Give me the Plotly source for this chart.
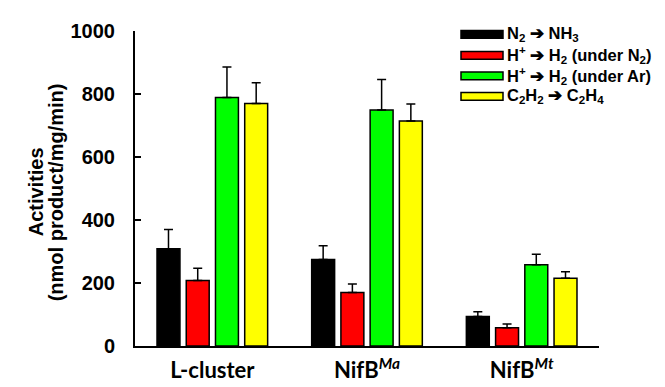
import plotly.graph_objects as go

categories = ["L-cluster", "NifB Ma", "NifB Mt"]
tick_labels = ["L-cluster", "NifB<sup><i>Ma</i></sup>", "NifB<sup><i>Mt</i></sup>"]

series_names = [
    "N<sub>2</sub> ➔ NH<sub>3</sub>",
    "H<sup>+</sup> ➔ H<sub>2</sub> (under N<sub>2</sub>)",
    "H<sup>+</sup> ➔ H<sub>2</sub> (under Ar)",
    "C<sub>2</sub>H<sub>2</sub> ➔ C<sub>2</sub>H<sub>4</sub>",
]
series_colors = ["#000000", "#ff0000", "#00ff00", "#ffff00"]

n2_nh3 = [309, 275, 94]
h2_under_n2 = [208, 170, 58]
h2_under_ar = [789, 749, 258]
c2h2_c2h4 = [770, 714, 215]

n2_nh3_err = [61, 43, 15]
h2_under_n2_err = [39, 27, 12]
h2_under_ar_err = [97, 97, 33]
c2h2_c2h4_err = [66, 54, 21]

values = [n2_nh3, h2_under_n2, h2_under_ar, c2h2_c2h4]
errors = [n2_nh3_err, h2_under_n2_err, h2_under_ar_err, c2h2_c2h4_err]

y_ticks = [0, 200, 400, 600, 800, 1000]

W, H = 665, 387
L, R, T, B = 127, 74, 20, 37
PW, PH = W - L - R, H - T - B

def px(x):
    return (x - L) / PW

def py(y):
    return (H - B - y) / PH

ARIAL = "Liberation Sans, Arial, sans-serif"

fig = go.Figure()
for name, vals, errs, col in zip(series_names, values, errors, series_colors):
    fig.add_trace(go.Bar(
        x=categories, y=vals, name=name,
        marker=dict(color=col, line=dict(color="black", width=1.5)),
        error_y=dict(type="data", array=errs, arrayminus=[0] * len(errs), symmetric=False,
                     color="black", thickness=1.5, width=4.5),
        showlegend=False,
    ))

# custom legend (long flat swatches as in the reference)
rows = [23.5, 45.5, 67, 88.5]
shapes = []
annotations = []
for name, col, yc in zip(series_names, series_colors, rows):
    shapes.append(dict(type="rect", xref="paper", yref="paper",
                       x0=px(453), x1=px(495), y0=py(yc + 4), y1=py(yc - 4),
                       fillcolor=col, line=dict(color="black", width=1.5), layer="above"))
    annotations.append(dict(xref="paper", yref="paper", x=px(498), y=py(yc),
                            xanchor="left", yanchor="middle", showarrow=False, text=name,
                            borderpad=0,
                            font=dict(family=ARIAL, size=16.5, color="black", weight="bold")))

annotations.append(dict(xref="paper", yref="paper", x=px(28), y=py(189), textangle=-90,
                        xanchor="center", yanchor="middle", showarrow=False, text="Activities",
                        font=dict(family=ARIAL, size=20, color="black", weight="bold")))
annotations.append(dict(xref="paper", yref="paper", x=px(48), y=py(189), textangle=-90,
                        xanchor="center", yanchor="middle", showarrow=False,
                        text="(nmol product/mg/min)",
                        font=dict(family=ARIAL, size=20, color="black", weight="bold")))

fig.update_layout(
    width=W, height=H,
    margin=dict(l=L, r=R, t=T, b=B, pad=0),
    plot_bgcolor="white", paper_bgcolor="white",
    barmode="group", bargap=0.244, bargroupgap=0.215,
    shapes=shapes, annotations=annotations,
    xaxis=dict(
        tickvals=categories, ticktext=tick_labels, range=[-0.5, 2.5],
        showline=True, linecolor="black", linewidth=2, ticks="", showgrid=False,
        zeroline=False, ticklabelstandoff=4,
        tickfont=dict(family="Lato, sans-serif", size=22, color="black", weight="bold"),
    ),
    yaxis=dict(
        range=[0, 1000], tickvals=y_ticks, ticks="inside", ticklen=6, tickwidth=1.5,
        tickcolor="black", showline=True, linecolor="black", linewidth=2,
        showgrid=False, zeroline=False, ticklabelstandoff=14,
        tickfont=dict(family=ARIAL, size=20, color="black", weight="bold"),
    ),
)

fig.write_html("out.html")
